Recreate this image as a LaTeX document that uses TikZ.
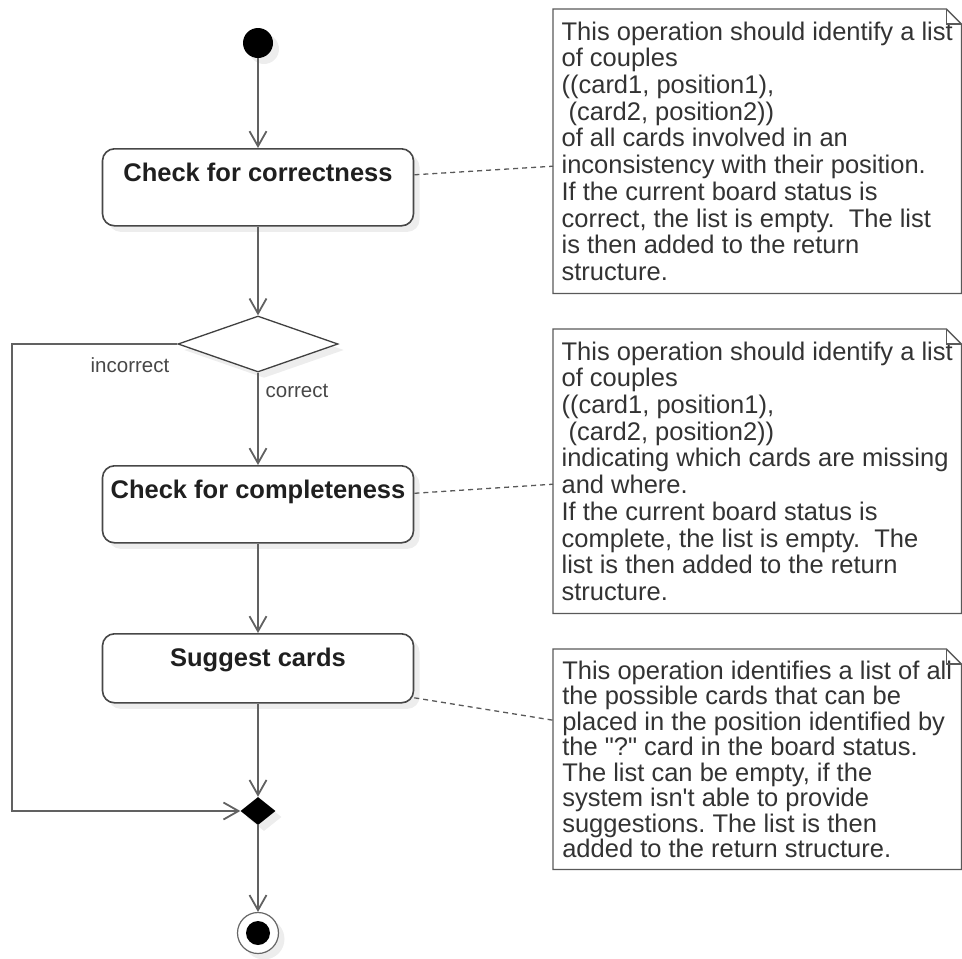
\documentclass[tikz,border=0pt]{standalone}
\usepackage{fontspec}
\setmainfont{Liberation Sans}[Ligatures=TeXOff]
\usetikzlibrary{arrows.meta,shapes.geometric,shadows}
\frenchspacing

\begin{document}
\begin{tikzpicture}[x=1pt,y=-1pt]
% Styles
\tikzstyle{fleche}=[-{Straight Barb[length=15pt,width=17pt]},line width=1.8pt,draw=black!62]
\tikzstyle{pointille}=[line width=1.3pt,draw=black!65,dash pattern=on 5pt off 4pt]
\tikzstyle{ombre}=[drop shadow={shadow xshift=6pt,shadow yshift=-6pt,fill=black!7,opacity=1}]
\tikzstyle{action}=[draw=black!72,line width=1.6pt,rounded corners=12pt,fill=white,ombre,minimum width=311pt,inner xsep=0pt,inner ysep=0pt,text height=33pt,font=\bfseries\fontsize{25.5}{30}\selectfont,text=black!88]
\tikzstyle{decision}=[diamond,draw=black!75,line width=1.3pt,fill=white,ombre,minimum width=160pt,minimum height=56pt,inner sep=0pt]
\tikzstyle{fusion}=[diamond,fill=black,ombre,minimum width=35pt,minimum height=28pt,inner sep=0pt]
\tikzstyle{debut}=[circle,fill=black,ombre,minimum size=30pt,inner sep=0pt]
\tikzstyle{fin}=[circle,draw=black!60,line width=1.2pt,fill=white,ombre,minimum size=41pt,inner sep=0pt]
\tikzstyle{finint}=[circle,fill=black,minimum size=24pt,inner sep=0pt]
\tikzstyle{note}=[minimum width=408pt,inner sep=0pt,align=left,text=black!80]
\tikzstyle{bordnote}=[draw=black!65,line width=1.3pt]
\tikzstyle{etiquette}=[font=\fontsize{20.5}{24}\selectfont,text=black!72,inner sep=0pt]
% Dimensions
\def\Axe{258}
\def\Marge{12}
\def\Pli{15pt}
\def\Cadre#1{\draw[bordnote] (#1.north west) -- ([xshift=-\Pli]#1.north east) -- ([yshift=-\Pli]#1.north east) -- (#1.south east) -- (#1.south west) -- cycle;
\draw[bordnote] ([xshift=-\Pli]#1.north east) -- ([xshift=-\Pli,yshift=-\Pli]#1.north east) -- ([yshift=-\Pli]#1.north east);}
\useasboundingbox (0,0) rectangle (962,959);
% Noeuds
\node[debut] (D) at (\Axe,43) {};
\node[action,anchor=north,text depth=44pt] (A1) at (\Axe,148) {Check for correctness};
\node[decision] (C) at (\Axe,344) {};
\node[action,anchor=north,text depth=44pt] (A2) at (\Axe,465) {Check for completeness};
\node[action,anchor=north,text depth=36pt] (A3) at (\Axe,633) {Suggest cards};
\node[fusion] (F) at (\Axe,811) {};
\node[fin] (Fe) at (\Axe,933) {};
\node[finint] (Fi) at (\Axe,933) {};
\coordinate (G) at (\Marge,600);
\node[etiquette] (Li) at (130,365) {incorrect};
\node[etiquette] (Lc) at (297,391) {correct};
% Notes
\node[note,anchor=north west,minimum height=284pt,font=\fontsize{25.5}{26.7}\selectfont] (N1) at (553,9) {This operation should identify a list\\of couples\\((card1, position1),\\\hspace*{0.28em}(card2, position2))\\of all cards involved in an\\inconsistency with their position.\\If the current board status is\\correct, the list is empty.\ \ The list\\is then added to the return\\structure.};
\node[note,anchor=north west,minimum height=284pt,font=\fontsize{25.5}{26.7}\selectfont] (N2) at (553,329) {This operation should identify a list\\of couples\\((card1, position1),\\\hspace*{0.28em}(card2, position2))\\indicating which cards are missing\\and where.\\If the current board status is\\complete, the list is empty.\ \ The\\list is then added to the return\\structure.};
\node[note,anchor=north west,minimum height=220pt,font=\fontsize{25.5}{25.5}\selectfont] (N3) at (553,649) {This operation identifies a list of all\\the possible cards that can be\\placed in the position identified by\\the "?" card in the board status.\\The list can be empty, if the\\system isn't able to provide\\suggestions. The list is then\\added to the return structure.};
\Cadre{N1}
\Cadre{N2}
\Cadre{N3}
% Arcs
\draw[fleche] (D) -- (A1);
\draw[fleche] (A1) -- (C);
\draw[fleche] (C) -- (A2);
\draw[fleche] (A2) -- (A3);
\draw[fleche] (A3) -- (F);
\draw[fleche] (C.west) -- (C.west -| G) |- (F.west);
\draw[fleche] (F) -- (Fe);
% Liens vers les notes
\draw[pointille] ([yshift=12.5pt]A1.east) -- ([yshift=-15pt]N1.west);
\draw[pointille] ([yshift=11pt]A2.east) -- ([yshift=-13pt]N2.west);
\draw[pointille] ([yshift=-29.5pt]A3.east) -- ([yshift=39pt]N3.west);
\end{tikzpicture}
\end{document}
